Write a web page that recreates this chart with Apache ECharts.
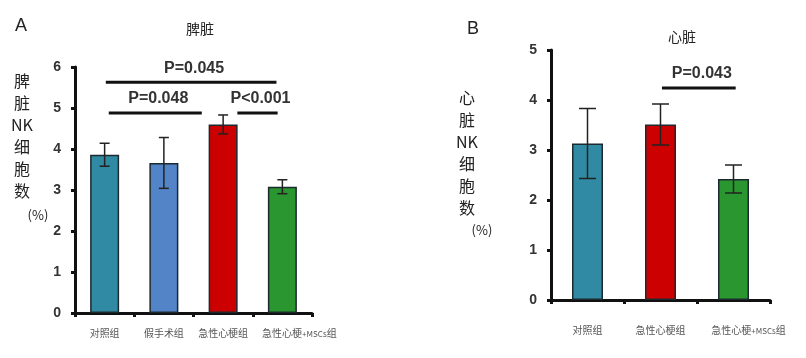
<!DOCTYPE html>
<html><head><meta charset="utf-8">
<script src="https://cdn.jsdelivr.net/npm/echarts@6/dist/echarts.min.js"></script>
<style>html,body{margin:0;padding:0;background:#fff}#c{width:806px;height:358px}</style>
</head><body><div id="c"></div>
<script>
// Panel A: spleen
const catsA = ['对照组', '假手术组', '急性心梗组', '急性心梗+MSCs组'];
const meansA = [3.86, 3.66, 4.6, 3.08];
const errsA = [0.28, 0.62, 0.23, 0.17];
const colorsA = ['#318aa3', '#5384c8', '#cc0000', '#2a9630'];
const ticksA = [0, 1, 2, 3, 4, 5, 6];
// significance: [from category pos, to category pos, y level, label]
const sigA = [[0.02, 2.9, 5.63, 'P=0.045'], [0.07, 1.64, 4.88, 'P=0.048'], [2.24, 2.92, 4.88, 'P<0.001']];

// Panel B: heart
const catsB = ['对照组', '急性心梗组', '急性心梗+MSCs组'];
const meansB = [3.13, 3.51, 2.42];
const errsB = [0.7, 0.41, 0.28];
const colorsB = ['#318aa3', '#cc0000', '#2a9630'];
const ticksB = [0, 1, 2, 3, 4, 5];
const sigB = [[1.02, 2.03, 4.24, 'P=0.043']];

const chart = echarts.init(document.getElementById('c'));
const CJK = '"Noto Sans CJK SC", sans-serif';

function yAxis(idx, ticks, margin) {
  return {
    gridIndex: idx, type: 'value', min: ticks[0], max: ticks[ticks.length - 1], interval: 1,
    axisLine: {show: true, lineStyle: {color: '#111', width: 3}},
    axisTick: {show: true, length: 4, lineStyle: {color: '#111', width: 3}},
    splitLine: {show: false},
    axisLabel: {color: '#333', fontSize: 14, fontWeight: 'bold', fontFamily: 'Arial, "Liberation Sans"', margin: margin}
  };
}
function xAxis(idx, cats, margin, lastShift) {
  return {
    gridIndex: idx, type: 'category',
    data: cats.map((c, i) => i === cats.length - 1 ? {value: c, textStyle: {padding: [0, 0, 0, lastShift]}} : c),
    axisLine: {show: true, lineStyle: {color: '#111', width: 3}},
    axisTick: {show: true, length: 4, inside: false, lineStyle: {color: '#111', width: 3}},
    axisLabel: {color: '#555', fontSize: 10, fontFamily: CJK, margin: margin, interval: 0,
      formatter: function (v) { return v.replace('+MSCs', '{s|+MSCs}'); },
      rich: {s: {fontSize: 8, color: '#555', fontFamily: CJK, padding: [2, 0, 0, 0]}}}
  };
}
function barSeries(idx, means, colors, bw) {
  return {
    type: 'bar', xAxisIndex: idx, yAxisIndex: idx, barWidth: bw,
    data: means.map((v, i) => ({value: v, itemStyle: {color: colors[i]}})),
    itemStyle: {borderColor: '#1c2a30', borderWidth: 1.5}
  };
}
function errSeries(idx, means, errs, cap) {
  return {
    type: 'custom', xAxisIndex: idx, yAxisIndex: idx, z: 5,
    data: means.map((m, i) => [i, m - errs[i], m + errs[i]]),
    renderItem: function (params, api) {
      const lo = api.coord([api.value(0), api.value(1)]);
      const hi = api.coord([api.value(0), api.value(2)]);
      const st = {stroke: '#222', lineWidth: 1.5};
      return {type: 'group', children: [
        {type: 'line', shape: {x1: lo[0], y1: lo[1], x2: hi[0], y2: hi[1]}, style: st},
        {type: 'line', shape: {x1: hi[0] - cap / 2, y1: hi[1], x2: hi[0] + cap / 2, y2: hi[1]}, style: st},
        {type: 'line', shape: {x1: lo[0] - cap / 2, y1: lo[1], x2: lo[0] + cap / 2, y2: lo[1]}, style: st}
      ]};
    }
  };
}
function sigSeries(idx, sig) {
  return {
    type: 'custom', xAxisIndex: idx, yAxisIndex: idx, z: 6,
    data: sig.map(s => [s[0], s[1], s[2]]),
    renderItem: function (params, api) {
      const bw = api.size([1, 0])[0];
      const a = api.value(0), b = api.value(1), y = api.value(2);
      const pa = api.coord([Math.floor(a), y]);
      const pb = api.coord([Math.floor(b), y]);
      const x1 = pa[0] + (a - Math.floor(a)) * bw;
      const x2 = pb[0] + (b - Math.floor(b)) * bw;
      const label = sig[params.dataIndex][3];
      return {type: 'group', children: [
        {type: 'line', shape: {x1: x1, y1: pa[1], x2: x2, y2: pa[1]}, style: {stroke: '#111', lineWidth: 3}},
        {type: 'text', x: (x1 + x2) / 2 + 3, y: pa[1] - 6, style: {text: label, fill: '#333', fontSize: 16, fontWeight: 'bold',
          fontFamily: 'Arial, "Liberation Sans"', align: 'center', verticalAlign: 'bottom'}}
      ]};
    }
  };
}

const txt = (x, y, text, size, extra) => Object.assign({type: 'text', x: x, y: y,
  style: Object.assign({text: text, fill: '#222', fontSize: size, fontFamily: CJK, align: 'center', verticalAlign: 'middle'}, extra || {})});

chart.setOption({
  animation: false,
  grid: [
    {left: 75, top: 67, width: 237, height: 246},
    {left: 551, top: 50, width: 219, height: 250}
  ],
  xAxis: [xAxis(0, catsA, 15, 34), xAxis(1, catsB, 25, 30)],
  yAxis: [yAxis(0, ticksA, 14), yAxis(1, ticksB, 14)],
  graphic: [
    txt(21, 26, 'A', 18, {fontFamily: 'Arial, "Liberation Sans"'}),
    txt(200, 29, '脾脏', 14),
    txt(22, 136, '脾\n脏\nNK\n细\n胞\n数', 16, {lineHeight: 22}),
    txt(38, 215, '(%)', 13),
    txt(473, 29, 'B', 18, {fontFamily: 'Arial, "Liberation Sans"'}),
    txt(682, 37, '心脏', 14),
    txt(467, 153, '心\n脏\nNK\n细\n胞\n数', 16, {lineHeight: 22}),
    txt(482, 230, '(%)', 13)
  ],
  series: [
    barSeries(0, meansA, colorsA, 29), errSeries(0, meansA, errsA, 10), sigSeries(0, sigA),
    barSeries(1, meansB, colorsB, 31), errSeries(1, meansB, errsB, 17), sigSeries(1, sigB)
  ]
});
</script></body></html>
